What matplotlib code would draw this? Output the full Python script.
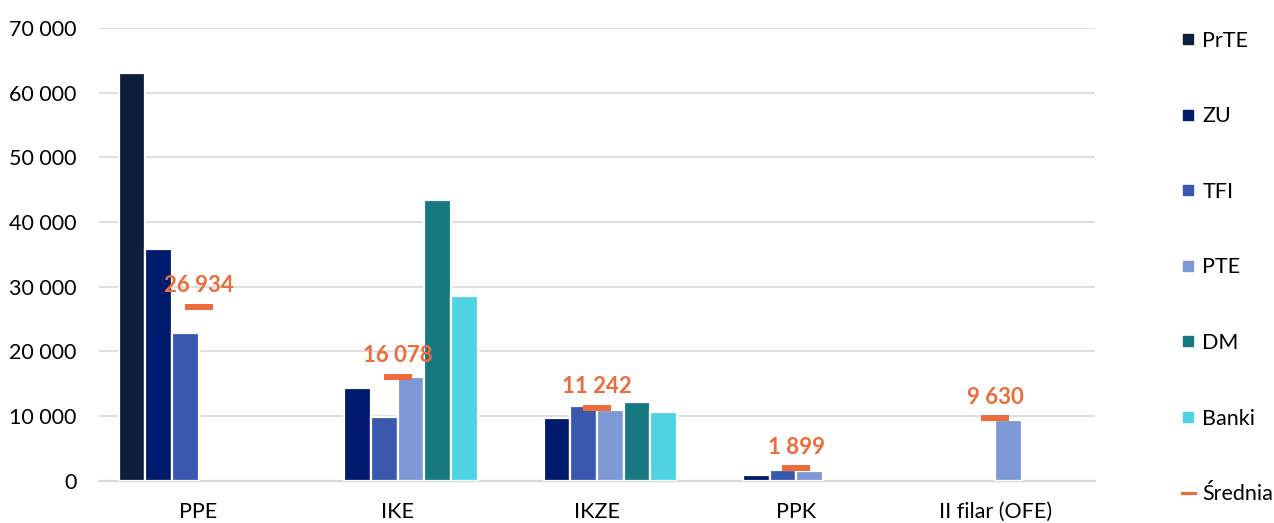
import numpy as np
import matplotlib
matplotlib.use("Agg")
import matplotlib.pyplot as plt
from matplotlib.lines import Line2D
from matplotlib.ticker import FuncFormatter

plt.rcParams['font.family'] = ['Lato', 'DejaVu Sans']

categories = ["PPE", "IKE", "IKZE", "PPK", "II filar (OFE)"]
series_names = ["PrTE", "ZU", "TFI", "PTE", "DM", "Banki"]
nan = np.nan
prte = [63000, nan, nan, nan, nan]
zu = [35900, 14400, 9650, 900, nan]
tfi = [22900, 9850, 11500, 1700, nan]
pte = [nan, 16000, 10950, 1550, 9400]
dm = [nan, 43400, 12150, nan, nan]
banki = [nan, 28500, 10650, nan, nan]
srednia = [26934, 16078, 11242, 1899, 9630]
yticks = [0, 10000, 20000, 30000, 40000, 50000, 60000, 70000]

series = [prte, zu, tfi, pte, dm, banki]
colors = ["#0E1F3D", "#001A6E", "#3A58AD", "#7F98D6", "#177882", "#4FD3E3"]
orange = "#EE6B3B"

def fmt(v):
    return f"{v:,.0f}".replace(",", " ")

fig = plt.figure(figsize=(12.74, 5.23), dpi=100)
ax = fig.add_axes([99/1274, 1-480.7/523, (1095-99)/1274, (480.7-28)/523])

x = np.arange(len(categories))
w = 0.134
for i, (vals, c, name) in enumerate(zip(series, colors, series_names)):
    ax.bar(x + (i - 2.5) * w, vals, width=w, color=c, edgecolor="white",
           linewidth=1.6, zorder=2, label=name)

ax.plot(x, srednia, linestyle="none", marker="_", markersize=19.5,
        markeredgewidth=4.3, color=orange, zorder=3)
for xi, v in zip(x, srednia):
    ax.annotate(fmt(v), (xi, v), xytext=(0, 10.5), textcoords="offset points",
                ha="center", va="baseline", color=orange, fontsize=16,
                fontweight="bold", zorder=4)

ax.set_xlim(-0.5, len(categories) - 0.5)
ax.set_ylim(0, 70000)
ax.set_yticks(yticks)
ax.yaxis.set_major_formatter(FuncFormatter(lambda v, p: fmt(v)))
ax.set_xticks(x)
ax.set_xticklabels(categories)
ax.tick_params(axis="both", length=0, labelsize=15.5, colors="#000000")
ax.tick_params(axis="y", pad=16)
ax.tick_params(axis="x", pad=15)
ax.grid(axis="y", color="#D9D9D9", linewidth=1.2, zorder=0)
ax.set_axisbelow(True)
for s in ["top", "right", "left"]:
    ax.spines[s].set_visible(False)
ax.spines["bottom"].set_color("#D9D9D9")
ax.spines["bottom"].set_linewidth(1.6)
ax.spines["bottom"].set_zorder(1)

handles = [Line2D([0], [0], marker="s", linestyle="none", markersize=6.5,
                  markerfacecolor=c, markeredgecolor=c) for c in colors]
handles.append(Line2D([0], [0], color=orange, linewidth=2.3))
labels = series_names + ["Średnia"]
fig.legend(handles, labels, loc="upper left", bbox_to_anchor=(1182/1274, 0.941),
           frameon=False, fontsize=15.5, labelspacing=2.58, handlelength=0.6,
           handletextpad=0.35, borderpad=0, borderaxespad=0)

fig.savefig("out.png", dpi=100)
